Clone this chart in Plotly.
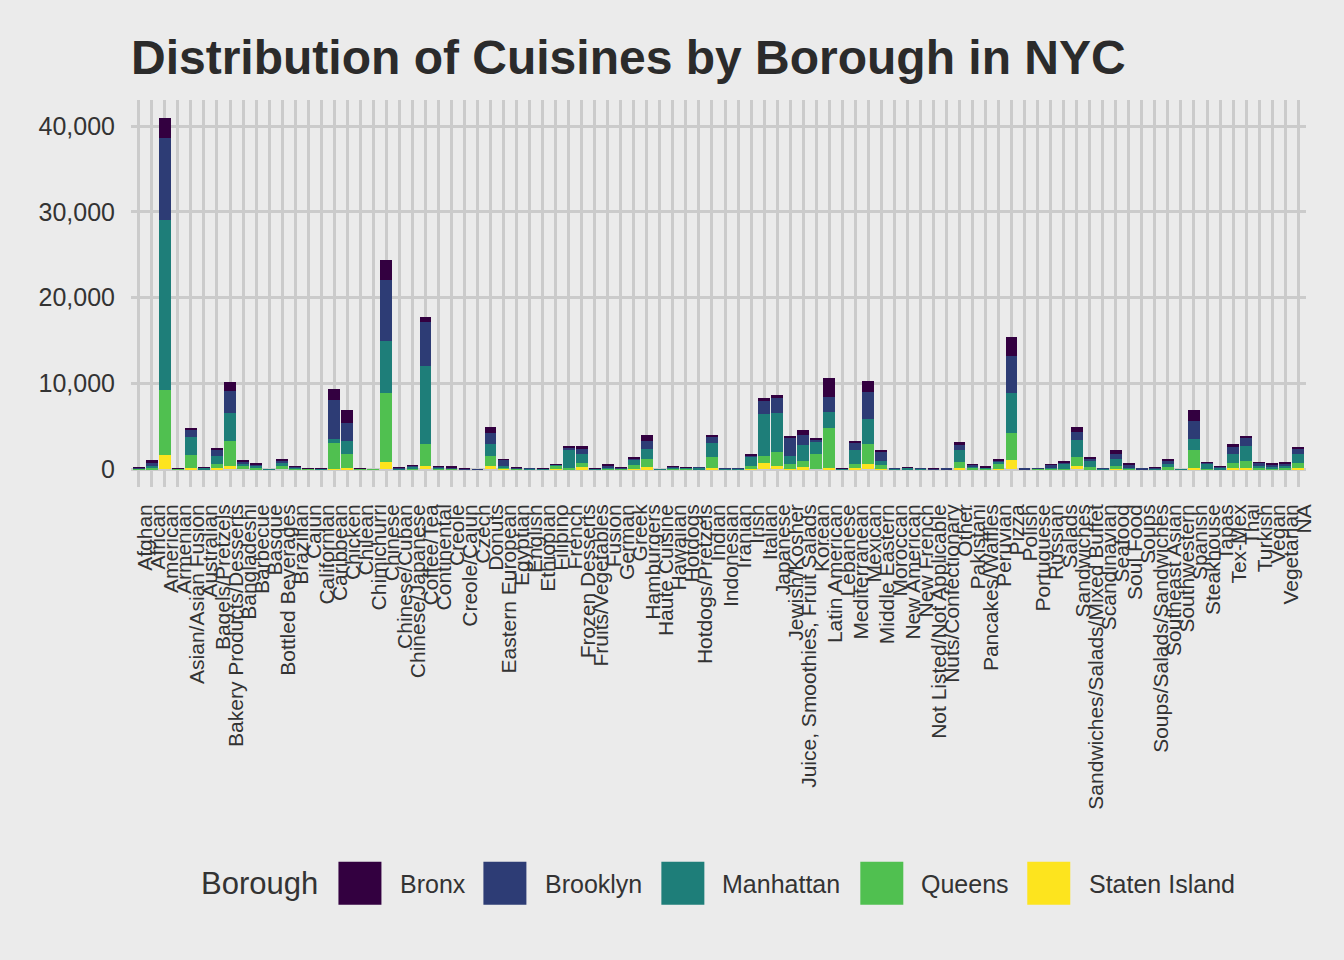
import plotly.graph_objects as go

cuisines = [
    "Afghan", "African", "American", "Armenian", "Asian/Asian Fusion", "Australian",
    "Bagels/Pretzels", "Bakery Products/Desserts", "Bangladeshi", "Barbecue", "Basque",
    "Bottled Beverages", "Brazilian", "Cajun", "Californian", "Caribbean", "Chicken",
    "Chilean", "Chimichurri", "Chinese", "Chinese/Cuban", "Chinese/Japanese", "Coffee/Tea",
    "Continental", "Creole", "Creole/Cajun", "Czech", "Donuts", "Eastern European",
    "Egyptian", "English", "Ethiopian", "Filipino", "French", "Frozen Desserts",
    "Fruits/Vegetables", "Fusion", "German", "Greek", "Hamburgers", "Haute Cuisine",
    "Hawaiian", "Hotdogs", "Hotdogs/Pretzels", "Indian", "Indonesian", "Iranian", "Irish",
    "Italian", "Japanese", "Jewish/Kosher", "Juice, Smoothies, Fruit Salads", "Korean",
    "Latin American", "Lebanese", "Mediterranean", "Mexican", "Middle Eastern", "Moroccan",
    "New American", "New French", "Not Listed/Not Applicable", "Nuts/Confectionary", "Other",
    "Pakistani", "Pancakes/Waffles", "Peruvian", "Pizza", "Polish", "Portuguese", "Russian",
    "Salads", "Sandwiches", "Sandwiches/Salads/Mixed Buffet", "Scandinavian", "Seafood",
    "Soul Food", "Soups", "Soups/Salads/Sandwiches", "Southeast Asian", "Southwestern",
    "Spanish", "Steakhouse", "Tapas", "Tex-Mex", "Thai", "Turkish", "Vegan", "Vegetarian", "NA",
]

bronx = [20, 350, 2380, 10, 120, 10, 120, 1050, 120, 60, 0, 100, 40, 40, 10, 1290, 1520,
         10, 0, 2340, 60, 30, 590, 20, 20, 10, 0, 700, 40, 20, 0, 10, 10, 100, 230, 10, 30,
         10, 120, 700, 0, 10, 10, 0, 120, 0, 0, 120, 350, 230, 120, 590, 120, 2220, 10, 120,
         1290, 120, 0, 10, 0, 10, 0, 230, 40, 70, 120, 2220, 0, 0, 10, 20, 590, 120, 0, 470,
         120, 0, 10, 120, 0, 1290, 20, 10, 350, 120, 40, 60, 120, 120]
brooklyn = [50, 350, 9560, 60, 940, 50, 820, 2570, 230, 120, 0, 350, 60, 20, 30, 4560, 2110,
            20, 0, 7130, 40, 120, 5140, 100, 150, 70, 20, 1290, 700, 50, 20, 50, 40, 350, 700,
            20, 230, 40, 120, 940, 0, 120, 20, 20, 820, 20, 10, 120, 1520, 1870, 2110, 1170,
            350, 1760, 20, 940, 3160, 1170, 20, 40, 10, 60, 20, 700, 230, 100, 120, 4330, 80,
            10, 470, 120, 940, 350, 10, 590, 470, 20, 60, 470, 0, 2110, 120, 120, 820, 1050,
            470, 230, 230, 700]
manhattan = [60, 310, 19830, 30, 2100, 200, 940, 3280, 230, 230, 10, 350, 120, 20, 50, 470,
             1520, 10, 0, 6080, 130, 150, 9130, 60, 30, 20, 20, 1400, 230, 60, 90, 80, 60,
             2100, 1050, 10, 150, 90, 580, 1170, 10, 150, 150, 200, 1640, 60, 30, 1170, 4910,
             4560, 940, 1870, 1400, 1870, 40, 1640, 2930, 470, 60, 180, 40, 20, 20, 1400, 60,
             80, 230, 4680, 10, 10, 60, 700, 1990, 700, 40, 820, 60, 30, 130, 350, 10, 1290,
             590, 230, 1050, 1760, 120, 200, 230, 1050]
queens = [100, 120, 7580, 50, 1520, 20, 470, 2930, 450, 200, 0, 350, 120, 10, 20, 3040, 1640,
          50, 5, 8070, 10, 120, 2570, 120, 100, 10, 0, 1170, 120, 60, 10, 10, 470, 100, 470,
          40, 100, 60, 470, 940, 0, 70, 40, 10, 1290, 20, 20, 230, 820, 1640, 590, 700, 1760,
          4680, 10, 470, 2340, 470, 10, 20, 10, 10, 20, 700, 230, 80, 680, 3160, 10, 50, 60,
          40, 1050, 230, 10, 350, 60, 10, 30, 230, 0, 2110, 80, 20, 590, 820, 230, 150, 230,
          590]
staten_island = [0, 20, 1630, 10, 120, 0, 120, 350, 0, 40, 0, 0, 10, 40, 0, 20, 120, 0, 0,
                 820, 0, 30, 350, 20, 0, 0, 0, 350, 50, 0, 0, 0, 20, 20, 230, 0, 20, 10, 60,
                 230, 0, 0, 10, 0, 120, 0, 0, 120, 700, 350, 20, 230, 0, 120, 0, 120, 590, 20,
                 0, 0, 0, 0, 0, 120, 10, 10, 20, 1050, 0, 0, 0, 0, 350, 0, 0, 30, 0, 0, 0, 0,
                 0, 120, 20, 0, 120, 120, 0, 0, 10, 120]

boroughs = ["Bronx", "Brooklyn", "Manhattan", "Queens", "Staten Island"]
series = {"Bronx": bronx, "Brooklyn": brooklyn, "Manhattan": manhattan,
          "Queens": queens, "Staten Island": staten_island}
colors = {"Bronx": "#330040", "Brooklyn": "#2D3C75", "Manhattan": "#1E7E79",
          "Queens": "#50C050", "Staten Island": "#FDE41E"}

y_ticks = [0, 10000, 20000, 30000, 40000]

FONT = "Liberation Sans, Arial, Helvetica, sans-serif"
BG = "#EBEBEB"
GRID = "#CBCBCB"
TXT = "#333333"

W, H = 1344, 960
L, R, T, B = 130.5, 1305.8, 100.0, 486.6

fig = go.Figure()
# stack from bottom: Staten Island first, Bronx on top
for b in reversed(boroughs):
    fig.add_trace(go.Bar(
        x=cuisines, y=series[b], name=b,
        marker=dict(color=colors[b], line=dict(width=0)),
        showlegend=False,
    ))

ymax = max(sum(v) for v in zip(*series.values()))
pad = 0.05 * ymax

def px(xp):
    return (xp - L) / (R - L)

def py(yp):
    return (B - yp) / (B - T)

shapes = []
annotations = []
# legend (drawn manually to match large ggplot keys)
annotations.append(dict(text="Borough", x=px(198.5), y=py(883), xref="paper", yref="paper",
                        xanchor="left", yanchor="middle", showarrow=False,
                        font=dict(family=FONT, size=31, color=TXT)))
key_x = [338, 483, 661, 860, 1027]
txt_x = [398, 542.5, 720, 918.5, 1087]
for b, kx, tx in zip(boroughs, key_x, txt_x):
    shapes.append(dict(type="rect", xref="paper", yref="paper",
                       x0=px(kx), x1=px(kx + 43), y0=py(904), y1=py(861),
                       fillcolor=colors[b], line=dict(width=0)))
    annotations.append(dict(text=b, x=px(tx), y=py(883), xref="paper", yref="paper",
                            xanchor="left", yanchor="middle", showarrow=False,
                            font=dict(family=FONT, size=25, color=TXT)))

fig.update_layout(
    width=W, height=H,
    barmode="stack", bargap=0.1,
    paper_bgcolor=BG, plot_bgcolor=BG,
    margin=dict(l=L, r=W - R, t=T, b=H - B, autoexpand=False),
    title=dict(text="<b>Distribution of Cuisines by Borough in NYC</b>",
               x=0, xref="paper", xanchor="left",
               y=1 - 40.0 / H, yref="container", yanchor="top",
               font=dict(family=FONT, size=48, color="#2B2B2B")),
    font=dict(family=FONT, color=TXT),
    shapes=shapes,
    annotations=annotations,
    showlegend=False,
)
fig.update_xaxes(
    type="category", categoryorder="array", categoryarray=cuisines,
    tickmode="array", tickvals=cuisines, ticktext=cuisines,
    tickangle=-90, tickfont=dict(family=FONT, size=21, color=TXT),
    showgrid=True, gridcolor=GRID, gridwidth=2.7,
    ticks="", showline=False, zeroline=False,
    range=[-0.6, len(cuisines) - 1 + 0.6],
    ticklabelstandoff=12, ticklabelshift=6,
    automargin=False,
)
fig.update_yaxes(
    range=[-pad, ymax + pad],
    tickmode="array", tickvals=y_ticks, tickformat=",",
    tickfont=dict(family=FONT, size=25, color=TXT),
    showgrid=True, gridcolor=GRID, gridwidth=2.7,
    ticks="", showline=False, zeroline=False,
    ticklabelstandoff=15,
    automargin=False,
)

fig.write_html("out.html")
